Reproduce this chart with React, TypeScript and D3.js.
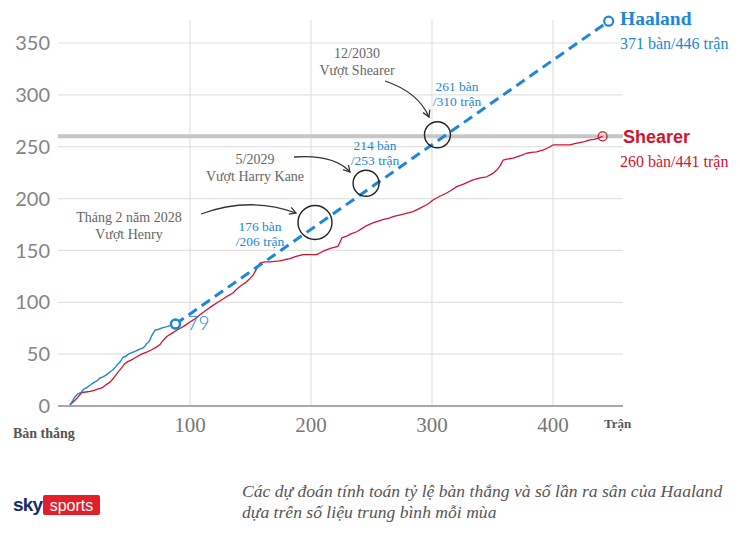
import React from "react";
import * as d3 from "d3";

const yTicks = [0, 50, 100, 150, 200, 250, 300, 350];
const xTicks = [100, 200, 300, 400];

// Haaland actual cumulative goals [matches, goals]
const haalandActual: [number, number][] = [
  [0.8, 1], [3, 5], [5, 9], [7.7, 12], [10, 13], [12, 16], [15, 18], [17.4, 20], [21, 23], [23, 24],
  [25.6, 27], [28, 28], [31, 30], [34, 33], [36.4, 35], [38, 37], [40, 40], [42, 42], [44.6, 47],
  [47, 48], [49, 50], [51, 51], [52.9, 52], [55, 53], [57, 54], [59, 55], [61.2, 56], [63, 58],
  [64, 60], [66, 62], [67, 64], [68, 67], [69, 69], [71, 73], [74, 74], [77.7, 75.5], [81, 76.5],
  [84.9, 78], [88, 79],
];
// Haaland projection
const haalandProj: [number, number][] = [[88, 79], [446, 371]];

// Shearer cumulative goals
const shearer: [number, number][] = [
  [0.8, 1], [3.6, 4], [7, 8], [10.5, 13], [14, 13.5], [17.4, 14], [21, 15], [23, 16], [25.6, 17],
  [28, 18], [30, 20], [33.9, 23], [37, 27], [40, 32], [43, 36], [46.3, 41], [49, 43], [51, 44],
  [54, 46], [56, 47.5], [60, 50], [64.2, 52], [68, 54], [72.5, 57], [75, 59], [77, 62], [80.7, 67],
  [85, 70], [89, 73], [92, 75], [95, 77], [100, 81], [104, 84], [108.3, 88], [113, 92], [119, 97],
  [123, 100], [127, 103], [131, 106], [135.5, 109], [139, 113], [142, 116], [146, 119],
  [149.6, 123], [152, 126], [154, 130], [156, 134], [157.9, 138], [162, 139], [166, 139],
  [170, 139.5], [174, 140], [178, 141], [182.6, 142], [187, 144], [193.4, 146], [199, 146],
  [204.7, 146], [208, 148], [211.6, 150], [216, 152], [222.3, 154], [224, 158], [225.4, 162],
  [230, 164], [233, 166], [237.8, 168], [242, 171], [246, 174], [251.2, 176.5], [255, 178],
  [260, 180], [264, 181], [267.8, 182.5], [273, 184], [278, 185.5], [284.3, 187.4], [289, 190],
  [295.6, 194], [298, 196], [300.8, 198.6], [306, 202], [312.1, 205.4], [316, 208],
  [320.4, 211.5], [326, 214], [333.9, 218], [340, 220], [345.2, 221], [350, 224], [353.5, 227.6],
  [356, 231], [358.7, 237], [362, 238], [367, 239], [372, 241], [378.3, 243.7], [382, 244.5],
  [386.5, 245], [392, 247], [396, 249], [400, 251.7], [406, 251.7], [414, 251.7], [418, 253],
  [422, 254], [426, 255], [430.6, 256.6], [434, 257], [437, 258], [441, 260],
];

const shearerRecord = 260;

// milestone annotations: circle centre [matches, goals], labels
const milestoneCircles: [number, number][] = [[203.3, 177], [245.5, 214.8], [304.5, 261.5]];
const milestoneGoals = ["176 bàn", "214 bàn", "261 bàn"];
const milestoneMatches = ["/206 trận", "/253 trận", "/310 trận"];
const milestoneDates = ["Tháng 2 năm 2028", "5/2029", "12/2030"];
const milestoneTexts = ["Vượt Henry", "Vượt Harry Kane", "Vượt Shearer"];

const BLUE = "#1c86dc";
const RED = "#d11430";
const GRAY_TXT = "#666";

export default function App() {
  const x = d3.scaleLinear().domain([0, 400]).range([69, 553]);
  const y = d3.scaleLinear().domain([0, 350]).range([406, 43]);
  const line = d3
    .line<[number, number]>()
    .x((d) => x(d[0]))
    .y((d) => y(d[1]));

  const circleR = [17, 13, 13];
  const goalLabelPos = [
    [260, 231],
    [375, 150],
    [457, 91],
  ];
  const dateLabelPos = [
    [129, 222],
    [255, 164],
    [357, 58],
  ];
  const dateBoxW = [112, 104, 82];
  const arrows = [
    "M201,214 Q250,196 296,213",
    "M294,157 Q334,154 350,172",
    "M385,81 Q418,92 429,117",
  ];

  const hEnd = haalandProj[haalandProj.length - 1];
  const sEnd = shearer[shearer.length - 1];
  const hNow = haalandActual[haalandActual.length - 1];

  return (
    <svg
      width={740}
      height={536}
      style={{ position: "absolute", left: 0, top: 0, background: "#fff" }}
      fontFamily="'Liberation Serif', 'Times New Roman', serif"
    >
      <defs>
        <marker id="arr" viewBox="0 0 10 10" refX="8" refY="5" markerWidth="7" markerHeight="7" orient="auto">
          <path d="M1,1 L8,5 L1,9" fill="none" stroke="#333" strokeWidth="1.4" />
        </marker>
      </defs>
      {yTicks.slice(1).map((t) => (
        <line key={"h" + t} x1={58} x2={623} y1={y(t)} y2={y(t)} stroke="#e2e2e2" strokeWidth={1.2} />
      ))}
      {xTicks.map((t) => (
        <line key={"v" + t} x1={x(t)} x2={x(t)} y1={20} y2={y(0)} stroke="#e2e2e2" strokeWidth={1.2} />
      ))}
      <line x1={58} x2={623} y1={y(shearerRecord)} y2={y(shearerRecord)} stroke="#c6c6c6" strokeWidth={4} />
      <line x1={58} x2={623} y1={y(0)} y2={y(0)} stroke="#a8a8a8" strokeWidth={2} />

      {yTicks.map((t) => (
        <text
          key={"yt" + t}
          x={50}
          y={y(t)}
          dy="0.36em"
          textAnchor="end"
          fontFamily="Lato, 'Open Sans', sans-serif"
          fontWeight={400}
          fontSize={20}
          fill="#858585"
        >
          {t}
        </text>
      ))}
      {xTicks.map((t) => (
        <text key={"xt" + t} x={x(t)} y={432} textAnchor="middle" fontSize={21} fill="#777">
          {t}
        </text>
      ))}
      <text x={13} y={438} fontSize={14} fontWeight="bold" fill="#555">
        Bàn thắng
      </text>
      <text x={604} y={428} fontSize={13} fontWeight="bold" fill="#555">
        Trận
      </text>

      {milestoneDates.map((d, i) => (
        <g key={"dl" + i}>
          <rect
            x={dateLabelPos[i][0] - dateBoxW[i] / 2}
            y={dateLabelPos[i][1] - 14}
            width={dateBoxW[i]}
            height={36}
            fill="#fff"
          />
          <text x={dateLabelPos[i][0]} y={dateLabelPos[i][1]} textAnchor="middle" fontSize={14} fill={GRAY_TXT}>
            {d}
          </text>
          <text x={dateLabelPos[i][0]} y={dateLabelPos[i][1] + 17} textAnchor="middle" fontSize={14} fill={GRAY_TXT}>
            {milestoneTexts[i]}
          </text>
        </g>
      ))}

      <path d={line(shearer) || ""} fill="none" stroke={RED} strokeWidth={1.3} strokeLinejoin="round" />
      <path d={line(haalandActual) || ""} fill="none" stroke={BLUE} strokeWidth={1.4} strokeLinejoin="round" />
      <path d={line(haalandProj) || ""} fill="none" stroke={BLUE} strokeWidth={3} strokeDasharray="10,6" />

      {milestoneCircles.map((c, i) => (
        <circle key={"mc" + i} cx={x(c[0])} cy={y(c[1])} r={circleR[i]} fill="none" stroke="#222" strokeWidth={1.4} />
      ))}
      {arrows.map((a, i) => (
        <path key={"ar" + i} d={a} fill="none" stroke="#333" strokeWidth={1.3} markerEnd="url(#arr)" />
      ))}
      {milestoneGoals.map((g, i) => (
        <g key={"gl" + i}>
          <text x={goalLabelPos[i][0]} y={goalLabelPos[i][1]} textAnchor="middle" fontSize={13.5} fill={BLUE}>
            {g}
          </text>
          <text x={goalLabelPos[i][0]} y={goalLabelPos[i][1] + 15} textAnchor="middle" fontSize={13.5} fill={BLUE}>
            {milestoneMatches[i]}
          </text>
        </g>
      ))}

      <circle cx={x(hNow[0])} cy={y(hNow[1])} r={4.5} fill="#fff" stroke={BLUE} strokeWidth={2.5} />
      <text
        x={x(hNow[0]) + 12}
        y={y(hNow[1]) + 6}
        fontFamily="Lato, 'Open Sans', sans-serif"
        fontWeight={300}
        fontSize={19}
        fill={BLUE}
      >
        {hNow[1]}
      </text>
      <circle cx={x(hEnd[0])} cy={y(hEnd[1])} r={4.5} fill="#fff" stroke={BLUE} strokeWidth={2.2} />
      <circle cx={x(sEnd[0])} cy={y(sEnd[1])} r={4.5} fill="none" stroke={RED} strokeWidth={1.2} />

      <text x={620} y={25} fontSize={19.5} fontWeight="bold" fill={BLUE}>
        Haaland
      </text>
      <text x={620} y={49} fontSize={16} fill={BLUE}>
        371 bàn/446 trận
      </text>
      <text x={623} y={143} fontSize={18} fontWeight="bold" fontFamily="'Liberation Sans', Arial, sans-serif" fill={RED}>
        Shearer
      </text>
      <text x={620} y={167} fontSize={16} fill={RED}>
        260 bàn/441 trận
      </text>

      <text x={13} y={511} fontFamily="'Liberation Sans', Arial, sans-serif" fontWeight="bold" fontSize={19} fill="#1b2a6b" letterSpacing={-0.8}>
        sky
      </text>
      <rect x={43} y={495} width={57} height={20} rx={2} fill="#e3202a" />
      <text x={71.5} y={510.5} textAnchor="middle" fontFamily="'Liberation Sans', Arial, sans-serif" fontSize={16} fill="#fff">
        sports
      </text>

      <text x={242} y={497} fontSize={17.6} fontStyle="italic" fill="#555">
        Các dự đoán tính toán tỷ lệ bàn thắng và số lần ra sân của Haaland
      </text>
      <text x={242} y={518} fontSize={17.6} fontStyle="italic" fill="#555">
        dựa trên số liệu trung bình mỗi mùa
      </text>
    </svg>
  );
}
